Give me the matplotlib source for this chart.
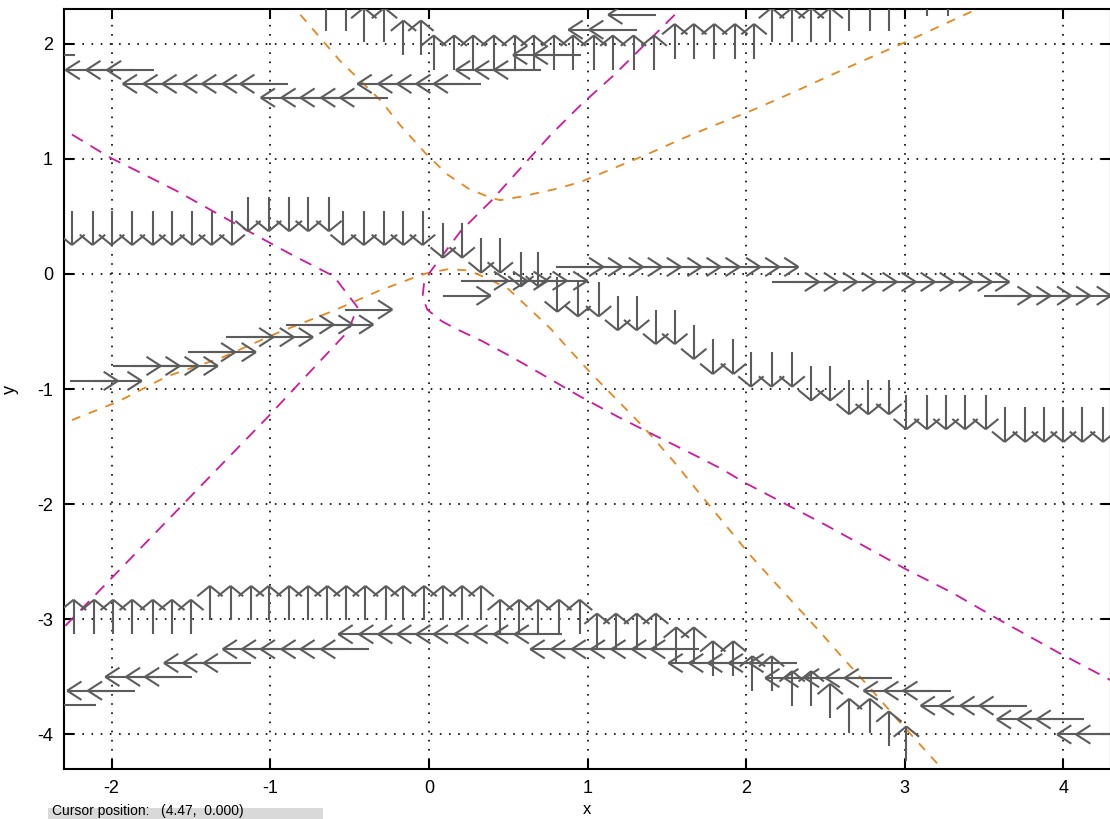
import numpy as np
import matplotlib.pyplot as plt
from matplotlib.collections import LineCollection
from matplotlib.patches import Rectangle

# --- nullcline-like curves (dashed) ---
orange_a_x = [-0.81, -0.56, -0.30, -0.18, -0.01, 0.12, 0.25, 0.39, 0.45, 0.58, 0.81, 0.96,
              1.17, 1.38, 1.59, 1.80, 2.02, 2.22, 2.35, 2.67, 3.00, 3.44]
orange_a_y = [2.25, 1.85, 1.50, 1.29, 1.03, 0.86, 0.74, 0.66, 0.64, 0.67, 0.74, 0.80,
              0.92, 1.04, 1.17, 1.29, 1.41, 1.53, 1.61, 1.81, 2.01, 2.29]

orange_b_x = [-2.25, -1.96, -1.65, -1.31, -0.95, -0.60, -0.32, -0.07, 0.00, 0.12, 0.25, 0.37,
              0.50, 0.64, 0.77, 0.88, 1.02, 1.19, 1.36, 1.55, 1.72, 2.03, 2.24, 2.46, 2.60,
              2.77, 2.96, 3.17, 3.25]
orange_b_y = [-1.27, -1.11, -0.89, -0.73, -0.51, -0.32, -0.15, -0.02, 0.01, 0.04, 0.03, -0.04,
              -0.13, -0.31, -0.48, -0.65, -0.86, -1.10, -1.34, -1.64, -1.93, -2.45, -2.77,
              -3.10, -3.32, -3.58, -3.88, -4.20, -4.32]

magenta_a_x = [-2.25, -2.01, -1.82, -1.59, -1.33, -1.11, -0.87, -0.60, -0.45,
               -0.51, -0.81, -1.02, -1.38, -1.90, -2.28, -2.35]
magenta_a_y = [1.21, 1.01, 0.88, 0.72, 0.52, 0.35, 0.17, -0.02, -0.29,
               -0.50, -0.94, -1.25, -1.76, -2.50, -3.04, -3.14]

magenta_b_x = [1.55, 1.36, 1.17, 0.96, 0.77, 0.58, 0.39, 0.20, 0.01, -0.03, -0.04, -0.01,
               0.08, 0.16, 0.33, 0.52, 0.71, 0.96, 1.19, 1.42, 1.64, 1.84, 2.00, 2.50,
               2.87, 3.00, 3.30, 3.59, 3.97, 4.30]
magenta_b_y = [2.25, 1.99, 1.73, 1.47, 1.21, 0.92, 0.63, 0.37, 0.02, -0.08, -0.20, -0.31,
               -0.41, -0.47, -0.58, -0.72, -0.87, -1.07, -1.24, -1.40, -1.55, -1.69, -1.82,
               -2.18, -2.46, -2.56, -2.77, -3.00, -3.29, -3.53]

# --- direction arrows ---
# horizontal rows: (y, x of each arrow head)
left_rows = [
    (1.90, [-2.53]),
    (1.77, [-2.29, -2.16, -2.03]),
    (1.65, [-1.93, -1.80, -1.68, -1.55, -1.43, -1.30, -1.19]),
    (1.53, [-1.06, -0.93, -0.81, -0.68, -0.56]),
    (1.65, [-0.45, -0.32, -0.20, -0.08, 0.03]),
    (1.77, [0.17, 0.29, 0.41]),
    (1.90, [0.53, 0.66]),
    (2.12, [0.88, 1.01]),
    (2.25, [1.13]),
    (-3.74, [-2.40]),
    (-3.62, [-2.28, -2.15]),
    (-3.50, [-2.04, -1.91, -1.79]),
    (-3.38, [-1.67, -1.55, -1.42]),
    (-3.26, [-1.30, -1.18, -1.06, -0.93, -0.81, -0.68]),
    (-3.13, [-0.57, -0.44, -0.32, -0.20, -0.08, 0.03, 0.16, 0.28, 0.41, 0.54]),
    (-3.26, [0.64, 0.77, 0.90, 1.02, 1.15, 1.28, 1.40]),
    (-3.38, [1.51, 1.64, 1.76, 1.89, 2.02]),
    (-3.51, [2.12, 2.24, 2.37, 2.50, 2.62]),
    (-3.62, [2.74, 2.87, 2.99]),
    (-3.75, [3.10, 3.22, 3.35, 3.47]),
    (-3.87, [3.58, 3.71, 3.83]),
    (-4.00, [3.96, 4.08]),
]
right_rows = [
    (-0.93, [-1.96, -1.81]),
    (-0.80, [-1.69, -1.57, -1.45, -1.33]),
    (-0.68, [-1.22, -1.09]),
    (-0.55, [-0.98, -0.85, -0.73]),
    (-0.44, [-0.60, -0.48, -0.35]),
    (-0.31, [-0.23]),
    (-0.19, [0.39]),
    (-0.06, [0.50, 0.62, 0.75, 0.87, 1.00]),
    (0.06, [1.10, 1.22, 1.35, 1.47, 1.59, 1.72, 1.84, 1.96, 2.09, 2.21, 2.33]),
    (-0.07, [2.46, 2.58, 2.70, 2.82, 2.95, 3.07, 3.19, 3.31, 3.43, 3.55, 3.66]),
    (-0.19, [3.80, 3.92, 4.05, 4.17, 4.30]),
]
# vertical columns: (y of arrow tail, x of each arrow)
up_cols = [
    (2.11, [-0.65, -0.52]),
    (2.01, [-0.41, -0.28]),
    (1.90, [-0.16, -0.05]),
    (1.77, [0.03, 0.16, 0.28, 0.41, 0.54, 0.66, 0.79, 0.91, 1.04, 1.16, 1.29, 1.42]),
    (1.87, [1.55, 1.67, 1.80, 1.93, 2.05]),
    (2.01, [2.16, 2.29, 2.41, 2.53]),
    (2.11, [2.65, 2.78, 2.90]),
    (2.24, [3.14, 3.27]),
    (-3.13, [-2.24, -2.11, -1.99, -1.87, -1.74, -1.62, -1.50]),
    (-3.01, [-1.38, -1.25, -1.12, -1.01, -0.88, -0.76, -0.64, -0.52, -0.40, -0.27,
             -0.16, -0.03, 0.09, 0.21, 0.33]),
    (-3.13, [0.45, 0.57, 0.69, 0.82, 0.95]),
    (-3.25, [1.06, 1.18, 1.31, 1.43]),
    (-3.37, [1.56, 1.67]),
    (-3.49, [1.79, 1.92]),
    (-3.62, [2.04, 2.16]),
    (-3.75, [2.29, 2.41]),
    (-3.86, [2.53]),
    (-3.99, [2.65, 2.78]),
    (-4.10, [2.90]),
    (-4.23, [3.01]),
]
down_cols = [
    (0.55, [-2.25, -2.12, -2.00, -1.87, -1.74, -1.62, -1.49, -1.37, -1.24]),
    (0.67, [-1.14, -1.01, -0.88, -0.76, -0.63]),
    (0.55, [-0.54, -0.41, -0.28, -0.16, -0.04]),
    (0.44, [0.09, 0.21]),
    (0.31, [0.33, 0.45]),
    (0.19, [0.58, 0.69]),
    (-0.03, [0.81]),
    (-0.07, [0.94, 1.07]),
    (-0.19, [1.19, 1.31]),
    (-0.31, [1.43, 1.55]),
    (-0.44, [1.67]),
    (-0.57, [1.79, 1.92]),
    (-0.68, [2.03, 2.16, 2.29]),
    (-0.80, [2.41, 2.53]),
    (-0.92, [2.65, 2.77, 2.90]),
    (-1.05, [3.01, 3.14, 3.26, 3.38, 3.51]),
    (-1.16, [3.63, 3.76, 3.88, 4.00, 4.12, 4.25]),
]

x_ticks = [-2, -1, 0, 1, 2, 3, 4]
y_ticks = [-4, -3, -2, -1, 0, 1, 2]

L = 0.3       # arrow length
HB = 0.09     # head length
HW = 0.08     # head half width


def arrow(tail, tip):
    tx, ty = tail
    hx, hy = tip
    d = np.array([hx - tx, hy - ty])
    u = d / np.hypot(*d)
    p = np.array([-u[1], u[0]])
    base = np.array([hx, hy]) - u * HB
    a1 = base + p * HW
    a2 = base - p * HW
    return [[(tx, ty), (hx, hy)], [tuple(a1), (hx, hy)], [tuple(a2), (hx, hy)]]


segs = []
for y, heads in left_rows:
    for h in heads:
        segs += arrow((h + L, y), (h, y))
for y, heads in right_rows:
    for h in heads:
        segs += arrow((h - L, y), (h, y))
for y, xs in up_cols:
    for x in xs:
        segs += arrow((x, y), (x, y + L))
for y, xs in down_cols:
    for x in xs:
        segs += arrow((x, y), (x, y - L))

plt.rcParams['font.family'] = ['Liberation Sans', 'DejaVu Sans']
plt.rcParams['axes.unicode_minus'] = False

fig = plt.figure(figsize=(11.1, 8.19), dpi=100)
W, H = 1110, 819
ax = fig.add_axes([64 / W, 50 / H, (1111 - 64) / W, 760 / H])

ax.add_collection(LineCollection(segs, colors='#5c5c5c', linewidths=1.5, zorder=3))

ax.plot(orange_a_x, orange_a_y, color='#e8861c', lw=1.3, ls=(0, (5, 5)), zorder=2)
ax.plot(orange_b_x, orange_b_y, color='#e8861c', lw=1.3, ls=(0, (5, 5)), zorder=2)
ax.plot(magenta_a_x, magenta_a_y, color='#d2179e', lw=1.3, ls=(0, (7, 5)), zorder=2)
ax.plot(magenta_b_x, magenta_b_y, color='#d2179e', lw=1.3, ls=(0, (7, 5)), zorder=2)

ax.set_xlim(-2.3, 4.3)
ax.set_ylim(-4.3, 2.3)
ax.set_xticks(x_ticks)
ax.set_yticks(y_ticks)
ax.grid(True, color='black', ls=(0, (1, 4.5)), lw=1.2)
ax.tick_params(direction='in', length=7, width=1.5, top=True, right=True,
               labelsize=13, pad=8)
for s in ax.spines.values():
    s.set_linewidth(1.5)

fig.text(10 / W, 1 - 390 / H, 'y', rotation=90, ha='center', va='center', fontsize=13)
fig.text(587 / W, 1 - 810 / H, 'x', ha='center', va='center', fontsize=12)

# status bar at the bottom left
fig.patches.append(Rectangle((48 / W, 0), (323 - 48) / W, 11 / H,
                             transform=fig.transFigure, fc='#d9d9d9', ec='none'))
fig.text(52 / W, 1 - 818 / H, 'Cursor position:   (4.47,  0.000)', ha='left',
         va='bottom', fontsize=10)

fig.savefig('out.png', dpi=100)
